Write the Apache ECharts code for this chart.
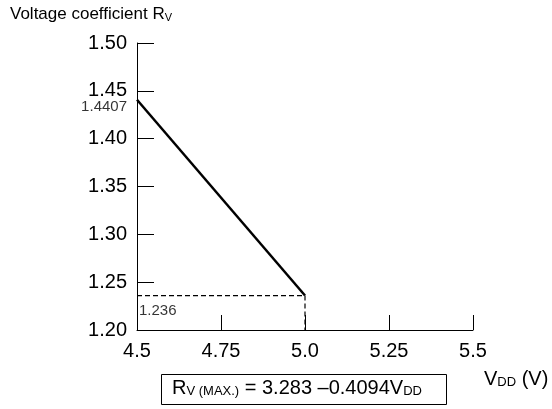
<!DOCTYPE html>
<html>
<head>
<meta charset="utf-8">
<script src="https://cdn.jsdelivr.net/npm/echarts@6/dist/echarts.min.js"></script>
<style>
html,body{margin:0;padding:0;background:#fff;}
#chart{width:552px;height:409px;}
</style>
</head>
<body>
<div id="chart"></div>
<script>
// Data
var xTickLabels = ['4.5', '4.75', '5.0', '5.25', '5.5'];
var yTickLabels = ['1.20', '1.25', '1.30', '1.35', '1.40', '1.45', '1.50'];
var lineX = [4.5, 5.0];
var lineY = [1.4407, 1.236];
var refY = 1.236;
var startY = 1.4407;

var FONT = '"Liberation Sans", Arial, Helvetica, sans-serif';
var chart = echarts.init(document.getElementById('chart'));

var mainData = lineX.map(function (x, i) { return [x, lineY[i]]; });
var dashData = [[lineX[0], refY], [lineX[1], refY], [lineX[1], 1.2]];

var option = {
  backgroundColor: '#fff',
  animation: false,
  textStyle: { fontFamily: FONT, color: '#000' },
  grid: { left: 137, top: 43, width: 336, height: 287, containLabel: false },
  xAxis: {
    type: 'value', min: 4.5, max: 5.5, interval: 0.25,
    axisLine: { show: true, onZero: false, lineStyle: { color: '#000', width: 1 } },
    axisTick: { show: true, inside: true, length: 15, lineStyle: { color: '#000', width: 1 } },
    splitLine: { show: false },
    axisLabel: {
      fontSize: 20, color: '#000', fontFamily: FONT, margin: 11,
      formatter: function (v) { return xTickLabels[Math.round((v - 4.5) / 0.25)]; }
    }
  },
  yAxis: {
    type: 'value', min: 1.2, max: 1.5, interval: 0.05,
    axisLine: { show: true, onZero: false, lineStyle: { color: '#000', width: 1 } },
    axisTick: { show: true, inside: true, length: 17, lineStyle: { color: '#000', width: 1 } },
    splitLine: { show: false },
    axisLabel: {
      fontSize: 20, color: '#000', fontFamily: FONT, margin: 10,
      formatter: function (v) { return yTickLabels[Math.round((v - 1.2) / 0.05)]; }
    }
  },
  series: [
    {
      type: 'line', data: dashData, symbol: 'none', silent: true,
      lineStyle: { color: '#000', width: 1.2, type: [5, 3] }
    },
    {
      type: 'line', data: mainData, symbol: 'none', silent: true,
      lineStyle: { color: '#000', width: 2.5 }
    },
    {
      type: 'scatter', symbolSize: 0, silent: true,
      data: [
        { value: [4.5, startY], label: { show: true, formatter: String(startY), position: 'left', distance: 10, offset: [0, 7], fontSize: 15, color: '#000', fontFamily: FONT } },
        { value: [4.5, refY], label: { show: true, formatter: String(refY), position: 'right', distance: 2, offset: [0, 15], fontSize: 15, color: '#000', fontFamily: FONT } }
      ]
    }
  ],
  graphic: [
    {
      type: 'text', left: 10, top: 6,
      style: {
        text: '{a|Voltage coefficient R}{b|V}',
        rich: {
          a: { fontSize: 17, fontFamily: FONT, fill: '#000', verticalAlign: 'bottom', lineHeight: 18 },
          b: { fontSize: 11, fontFamily: FONT, fill: '#000', verticalAlign: 'bottom', lineHeight: 13 }
        }
      }
    },
    {
      type: 'text', left: 484, top: 369,
      style: {
        text: '{a|V}{b|DD}{a| (V)}',
        rich: {
          a: { fontSize: 20, fontFamily: FONT, fill: '#000', verticalAlign: 'bottom', lineHeight: 21 },
          b: { fontSize: 13, fontFamily: FONT, fill: '#000', verticalAlign: 'bottom', lineHeight: 15 }
        }
      }
    },
    {
      type: 'rect', shape: { x: 161.5, y: 374.5, width: 285, height: 30 },
      style: { fill: '#fff', stroke: '#000', lineWidth: 1 }
    },
    {
      type: 'text', left: 172, top: 378,
      style: {
        text: '{a|R}{b|V (MAX.)}{a| = 3.283 \u20130.4094V}{b|DD}',
        rich: {
          a: { fontSize: 20, fontFamily: FONT, fill: '#000', verticalAlign: 'bottom', lineHeight: 21 },
          b: { fontSize: 13, fontFamily: FONT, fill: '#000', verticalAlign: 'bottom', lineHeight: 15 }
        }
      }
    }
  ]
};
chart.setOption(option);
</script>
</body>
</html>
